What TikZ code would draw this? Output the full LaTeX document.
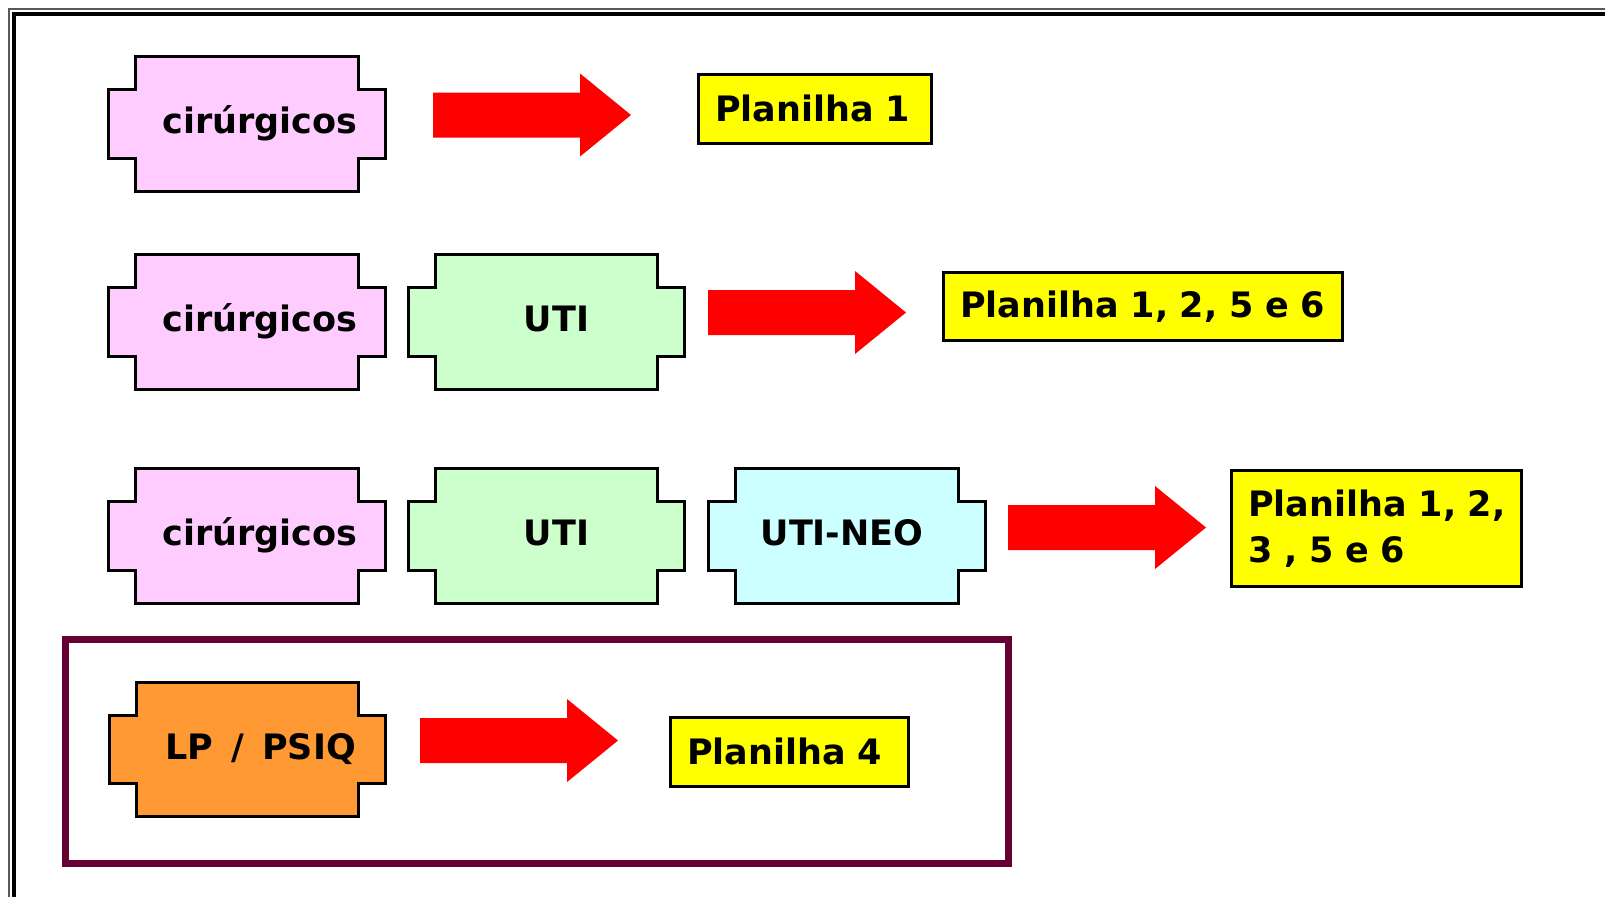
\documentclass[tikz,border=0pt]{standalone}
\usepackage{fontspec}
\setmainfont{DejaVu Sans}
\definecolor{pinkfill}{HTML}{FFCCFF}
\definecolor{greenfill}{HTML}{CCFFCC}
\definecolor{cyanfill}{HTML}{CCFFFF}
\definecolor{orangefill}{HTML}{FF9933}
\definecolor{framecol}{HTML}{660033}
\definecolor{arrowred}{HTML}{FF0000}
\definecolor{boxyellow}{HTML}{FFFF00}
\pgfdeclarelayer{back}
\pgfdeclarelayer{bg}
\pgfsetlayers{back,bg,main}
\newcommand\notchshape[2]{%
  \begin{pgfonlayer}{bg}
  \draw[line width=3.2pt, fill=#2, line join=miter]
    ([xshift=27pt]#1.north west) -- ([xshift=-27pt]#1.north east)
    -- ([xshift=-27pt,yshift=-33pt]#1.north east) -- ([yshift=-33pt]#1.north east)
    -- ([yshift=33pt]#1.south east) -- ([xshift=-27pt,yshift=33pt]#1.south east)
    -- ([xshift=-27pt]#1.south east) -- ([xshift=27pt]#1.south west)
    -- ([xshift=27pt,yshift=33pt]#1.south west) -- ([yshift=33pt]#1.south west)
    -- ([yshift=-33pt]#1.north west) -- ([xshift=27pt,yshift=-33pt]#1.north west)
    -- cycle;
  \end{pgfonlayer}}
\newcommand\redarrow[1]{%
  \fill[arrowred] ([yshift=22.5pt]#1) -- ++(147,0) -- ++(0,-19) -- ++(51,41.5)
    -- ++(-51,41.5) -- ++(0,-19) -- ++(-147,0) -- cycle;}
\tikzset{
  notched/.style={rectangle, minimum width=276pt, minimum height=134pt,
    inner sep=0pt, font=\fontsize{35}{42}\selectfont\bfseries,
    text height=26pt, text depth=7pt},
  planbox/.style n args={2}{rectangle, draw=black, line width=2.5pt, fill=boxyellow,
    inner xsep=17pt, inner ysep=0pt, anchor=north west, align=left,
    text width=#1pt-34pt, minimum height=#2pt,
    font=\fontsize{35}{46}\selectfont\bfseries},
}
\begin{document}
\begin{tikzpicture}[x=1pt,y=-1pt]
\useasboundingbox (0,0) rectangle (1605,897);
\begin{pgfonlayer}{back}
\fill[white] (0,0) rectangle (1605,897);
\end{pgfonlayer}
% page border
\draw[line width=2pt, black!65] (1605,9) -- (8.5,9) -- (8.5,897);
\draw[line width=4pt, black] (1605,14) -- (14,14) -- (14,897);
% frame around last row
\node[draw=framecol, line width=7pt, rectangle, inner sep=0pt, anchor=north west,
  minimum width=943pt, minimum height=224.5pt] (frame) at (62,635.5) {};
% row 1
\node[notched] (c1) at (247,124) {\hspace*{26pt}cirúrgicos};
\notchshape{c1}{pinkfill}
\coordinate (a1) at (433,115);
\redarrow{a1}
\node[planbox={233}{69}] (p1) at (697,73) {Planilha 1};
% row 2
\node[notched] (c2) at (247,322) {\hspace*{26pt}cirúrgicos};
\notchshape{c2}{pinkfill}
\node[notched] (u2) at (546.5,322) {\hspace*{20pt}UTI};
\notchshape{u2}{greenfill}
\coordinate (a2) at (708,312.5);
\redarrow{a2}
\node[planbox={399}{68}] (p2) at (942,271) {Planilha 1, 2, 5 e 6};
% row 3
\node[notched] (c3) at (247,536) {\hspace*{26pt}cirúrgicos};
\notchshape{c3}{pinkfill}
\node[notched] (u3) at (546.5,536) {\hspace*{20pt}UTI};
\notchshape{u3}{greenfill}
\node[notched] (n3) at (847,536) {UTI-NEO\hspace*{10pt}};
\notchshape{n3}{cyanfill}
\coordinate (a3) at (1008,527.5);
\redarrow{a3}
\node[planbox={290}{116}] (p3) at (1230,469) {\mbox{Planilha 1, 2,}\\3 , 5 e 6};
% row 4
\node[notched] (l4) at (247.5,749.5) {\hspace*{26pt}LP\hspace{6pt} / \hspace{6pt}PSIQ};
\notchshape{l4}{orangefill}
\coordinate (a4) at (420,740.5);
\redarrow{a4}
\node[planbox={238}{69}] (p4) at (669,716) {Planilha 4};
\end{tikzpicture}
\end{document}
